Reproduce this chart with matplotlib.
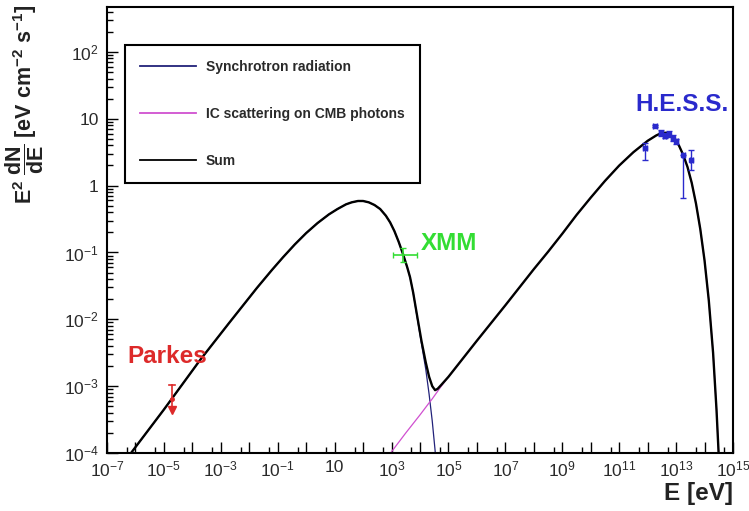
import numpy as np
import matplotlib
matplotlib.use("Agg")
import matplotlib.pyplot as plt
from matplotlib.ticker import FixedLocator, FuncFormatter

plt.rcParams['font.family'] = ['Liberation Sans', 'DejaVu Sans']
plt.rcParams['mathtext.fontset'] = 'custom'
plt.rcParams['mathtext.rm'] = 'Liberation Sans'
plt.rcParams['mathtext.it'] = 'Liberation Sans:italic'
plt.rcParams['mathtext.bf'] = 'Liberation Sans:bold'

# model curves as (log10 E [eV], log10 E^2 dN/dE)
sum_logE = [-6.6, -5.0, -3.73, -2.7, -1.73, -1.2, -0.81, -0.4, 0.0, 0.4, 0.8, 1.1, 1.4,
            1.6, 1.82, 2.0, 2.2, 2.4, 2.6, 2.8, 2.95, 3.1, 3.25, 3.4, 3.55, 3.65, 3.76,
            3.9, 4.05, 4.2, 4.32, 4.43, 4.53, 4.62, 4.75, 5.0, 6.0, 7.0, 8.0, 8.5, 9.0,
            9.5, 10.0, 10.5, 11.0, 11.5, 12.0, 12.3, 12.5, 12.65, 12.8, 12.95, 13.1,
            13.25, 13.4, 13.55, 13.7, 13.85, 14.0, 14.15, 14.3, 14.42, 14.5, 14.56]
sum_logF = [-4.25, -3.35, -2.61, -2.05, -1.53, -1.26, -1.07, -0.88, -0.71, -0.56, -0.43, -0.35, -0.28,
            -0.25, -0.23, -0.23, -0.25, -0.29, -0.35, -0.45, -0.55, -0.68, -0.84, -1.02, -1.22, -1.37, -1.60,
            -1.95, -2.32, -2.64, -2.86, -3.00, -3.06, -3.04, -2.98, -2.86, -2.32, -1.79, -1.25, -0.99, -0.72,
            -0.44, -0.18, 0.07, 0.30, 0.50, 0.67, 0.75, 0.79, 0.79, 0.76, 0.70, 0.60,
            0.46, 0.28, 0.04, -0.27, -0.65, -1.12, -1.72, -2.50, -3.35, -4.05, -4.60]

sync_cut_logE = [3.9, 4.05, 4.2, 4.32, 4.43, 4.53, 4.60]
sync_cut_logF = [-1.97, -2.36, -2.74, -3.12, -3.52, -3.96, -4.35]

ic_low_logE = [2.7, 3.5, 4.0, 4.32, 4.43, 4.53, 4.75]
ic_low_logF = [-4.15, -3.70, -3.43, -3.25, -3.19, -3.13, -3.00]

# measurements
parkes_E = 1.9e-5
parkes_F = 6.5e-4
parkes_hi = 1.05e-3
parkes_lo = 4.1e-4

xmm_E = 2.6e3
xmm_F = 0.091
xmm_Elo, xmm_Ehi = 1.1e3, 8.0e3
xmm_Flo, xmm_Fhi = 0.073, 0.117

hess_E = [8.1e11, 1.8e12, 2.9e12, 4.0e12, 5.5e12, 7.5e12, 1.0e13, 1.8e13, 3.4e13]
hess_F = [3.6, 7.8, 6.2, 5.6, 5.9, 5.2, 4.6, 2.9, 2.4]
hess_Flo = [2.4, 7.5, 5.6, 5.1, 5.3, 4.7, 4.2, 0.65, 1.7]
hess_Fhi = [4.4, 8.1, 6.8, 6.1, 6.5, 5.7, 5.0, 2.9, 3.4]

xticks = list(range(-7, 16))
xlabels_at = list(range(-7, 16, 2))
yticks = list(range(-4, 3))

legend_labels = ['Synchrotron radiation', 'IC scattering on CMB photons', 'Sum']

sync_logE = [e for e in sum_logE if e < 3.9] + sync_cut_logE
sync_logF = [f for e, f in zip(sum_logE, sum_logF) if e < 3.9] + sync_cut_logF
ic_logE = ic_low_logE + [e for e in sum_logE if e > 4.75]
ic_logF = ic_low_logF + [f for e, f in zip(sum_logE, sum_logF) if e > 4.75]

fig = plt.figure(figsize=(7.49, 5.11), dpi=100)
ax = fig.add_axes([107/749, 1-453/511, 626/749, 446/511])
ax.set_xscale('log')
ax.set_yscale('log')
ax.set_xlim(1e-7, 1e15)
ax.set_ylim(1e-4, 470)

blue = '#22227a'
pink = '#d050d0'
l1, = ax.plot(10**np.array(sync_logE), 10**np.array(sync_logF), color=blue, lw=0.9)
l2, = ax.plot(10**np.array(ic_logE), 10**np.array(ic_logF), color=pink, lw=0.9)
l3, = ax.plot(10**np.array(sum_logE), 10**np.array(sum_logF), color='black', lw=1.7,
              solid_joinstyle='round')

# Parkes
red = '#dd2a2a'
ax.plot([parkes_E, parkes_E], [parkes_lo, parkes_hi], color=red, lw=1.2)
ax.plot([parkes_E/1.25, parkes_E*1.25], [parkes_hi, parkes_hi], color=red, lw=1.2)
ax.plot([parkes_E], [parkes_F], marker='o', color=red, ms=2.5)
ax.plot([parkes_E], [parkes_lo*1.08], marker='v', color=red, ms=6)
ax.text(10**-6.3, 10**-2.55, 'Parkes', color=red, fontsize=17.5, fontweight='bold',
        ha='left', va='center')

# XMM
green = '#33dd33'
ax.errorbar([xmm_E], [xmm_F], xerr=[[xmm_E-xmm_Elo], [xmm_Ehi-xmm_E]],
            yerr=[[xmm_F-xmm_Flo], [xmm_Fhi-xmm_F]], color=green, lw=1.2,
            capsize=2.5, fmt='none')
ax.text(1.05e4, 10**-0.87, 'XMM', color=green, fontsize=17.5, fontweight='bold',
        ha='left', va='center')

# H.E.S.S.
hblue = '#2a2acc'
hF = np.array(hess_F)
ax.errorbar(hess_E, hess_F, yerr=[hF-np.array(hess_Flo), np.array(hess_Fhi)-hF],
            xerr=[np.array(hess_E)*0.12, np.array(hess_E)*0.14],
            color=hblue, lw=1.0, capsize=2, fmt='s', ms=2.5)
ax.text(10**13.2, 10**1.22, 'H.E.S.S.', color=hblue, fontsize=17.5, fontweight='bold',
        ha='center', va='center')

# axes styling
for s in ax.spines.values():
    s.set_linewidth(1.5)
ax.tick_params(which='both', direction='in', top=False, right=False,
               labelsize=12.5, labelcolor='#2a2a2a', width=1.0)
ax.tick_params(which='major', length=8)
ax.tick_params(which='minor', length=4)
ax.tick_params(axis='x', pad=5)
ax.tick_params(axis='y', pad=6)


def fmt(v, pos=None):
    n = int(round(np.log10(v)))
    if n == 0:
        return '1'
    if n == 1:
        return '10'
    return r'$10^{%d}$' % n


ax.xaxis.set_major_locator(FixedLocator([10.0**k for k in xticks]))
ax.xaxis.set_minor_locator(FixedLocator([5*10.0**k for k in xticks[:-1]]))
ax.xaxis.set_major_formatter(FuncFormatter(
    lambda v, p: fmt(v) if int(round(np.log10(v))) in xlabels_at else ''))
ax.xaxis.set_minor_formatter(FuncFormatter(lambda v, p: ''))

ax.yaxis.set_major_locator(FixedLocator([10.0**k for k in yticks]))
ax.yaxis.set_minor_locator(FixedLocator([m*10.0**k for k in range(-4, 3) for m in range(2, 10)]))
ax.yaxis.set_major_formatter(FuncFormatter(fmt))
ax.yaxis.set_minor_formatter(FuncFormatter(lambda v, p: ''))

ax.set_xlabel('E [eV]', fontsize=17.5, fontweight='bold', color='#222222', loc='right')
ax.xaxis.set_label_coords(1.0, -0.066)
ax.set_ylabel(r'$\mathbf{E^{2}\ \dfrac{dN}{dE}\ [eV\ cm^{-2}\ s^{-1}]}$', fontsize=15.5,
              color='#222222', loc='top')
ax.yaxis.set_label_coords(-0.098, 1.005)

leg = ax.legend([l1, l2, l3], legend_labels, loc='upper left',
                bbox_to_anchor=(125/749, 1-45/511), bbox_transform=fig.transFigure,
                fancybox=False, edgecolor='black', framealpha=1,
                prop={'weight': 'bold', 'size': 10}, labelspacing=2.35,
                handlelength=4.0, handletextpad=0.7, borderpad=1.1, borderaxespad=0)
leg.get_frame().set_linewidth(1.5)
for t in leg.get_texts():
    t.set_color('#2a2a2a')
for h in leg.get_lines():
    h.set_linewidth(1.3)

fig.savefig('out.png', dpi=100)
